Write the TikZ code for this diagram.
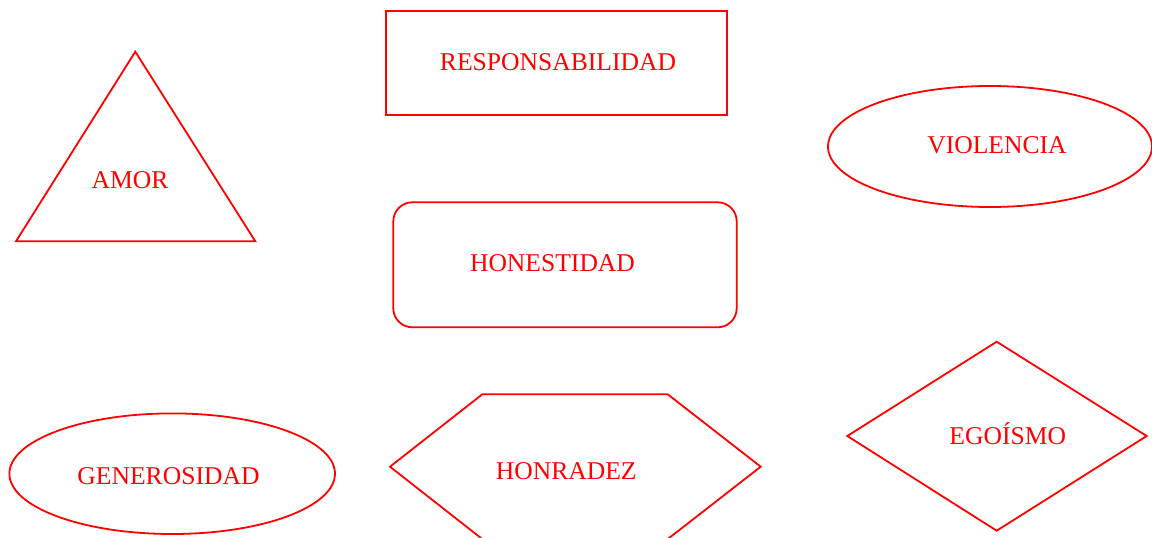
\documentclass[tikz,border=0pt]{standalone}
\usepackage{fontspec}
\setmainfont{Liberation Serif}
\begin{document}
\begin{tikzpicture}[x=1pt,y=-1pt,
  shapeline/.style={draw=red,line width=1.8pt,line join=miter},
  lbl/.style={text=red,font=\fontsize{25.6}{30}\selectfont,inner sep=0pt,anchor=base}]
\useasboundingbox (0,0) rectangle (1152,538);
\clip (0,0) rectangle (1152,538);
% triangle
\draw[shapeline] (135.3,51.7) -- (255.3,241.3) -- (16,241.3) -- cycle;
\node[lbl] (amor) at (130,188.3) {AMOR};
% rectangle
\draw[shapeline] (385.7,10.7) rectangle (726.7,115);
\node[lbl] (resp) at (558,70) {RESPONSABILIDAD};
% ellipse violencia
\draw[shapeline] (990,146.5) ellipse [x radius=162, y radius=60.5];
\node[lbl] (viol) at (997,153) {VIOLENCIA};
% rounded rectangle
\draw[shapeline,rounded corners=19pt] (393.3,202.3) rectangle (736.7,327.3);
\node[lbl] (hone) at (552.5,271.7) {HONESTIDAD};
% ellipse generosidad
\draw[shapeline] (172.2,473.7) ellipse [x radius=162.8, y radius=60.3];
\node[lbl] (gene) at (168.5,484) {GENEROSIDAD};
% hexagon
\draw[shapeline] (482.3,394.3) -- (667.7,394.3) -- (760.7,466.7) -- (667.7,539.1) -- (482.3,539.1) -- (390,466.7) -- cycle;
\node[lbl] (honr) at (566.2,479) {HONRADEZ};
% diamond
\draw[shapeline] (996.7,341.7) -- (1146.7,436) -- (996.7,530.7) -- (847.3,436) -- cycle;
\node[lbl] (ego) at (1007.8,444) {EGOÍSMO};
\end{tikzpicture}
\end{document}
